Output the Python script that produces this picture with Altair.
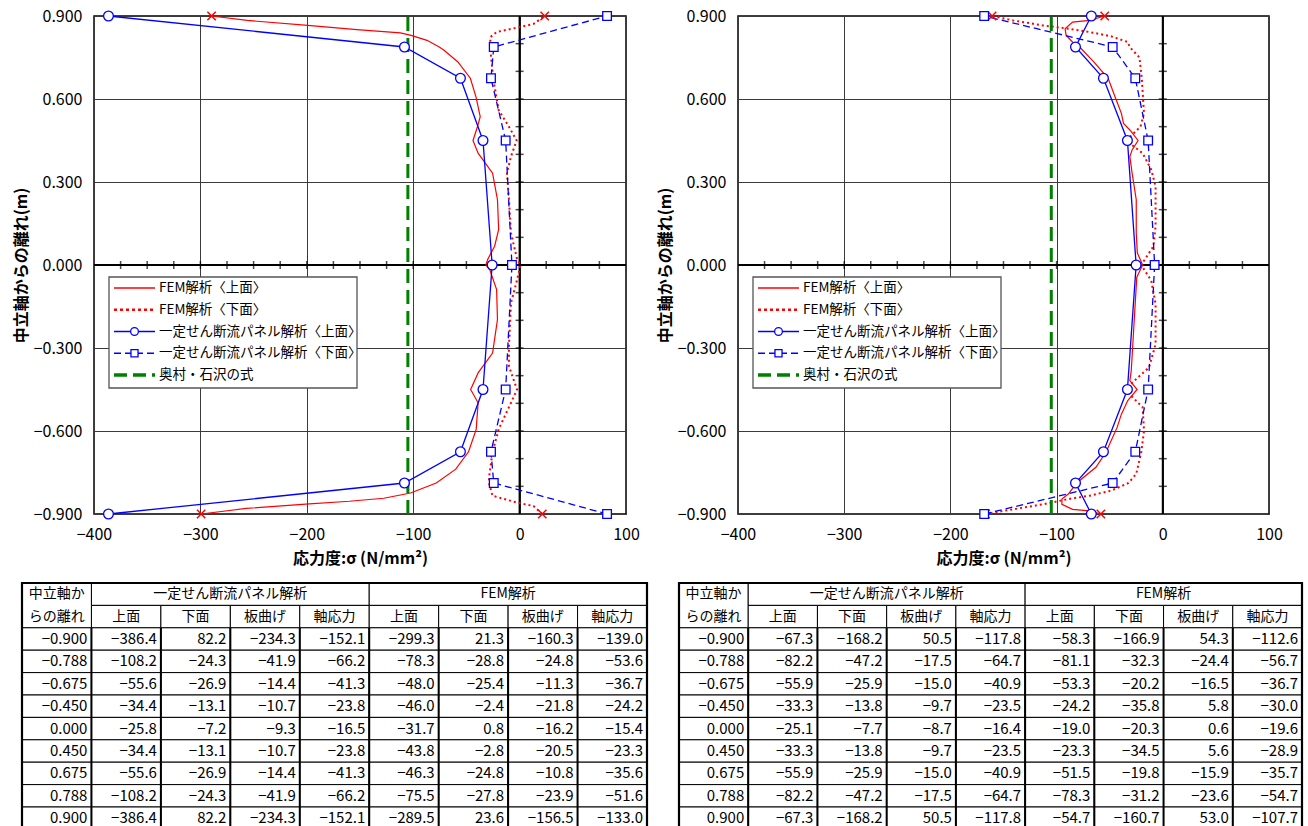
import altair as alt
import pandas as pd

FONT = "Noto Sans CJK JP"
RED = "#FF0000"
BLUE = "#0000FF"
GREEN = "#008000"

X_DOMAIN = [-400, 100]
Y_DOMAIN = [-0.9, 0.9]
x_tick_values = [-400, -300, -200, -100, 0, 100]
y_tick_values = [-0.9, -0.6, -0.3, 0.0, 0.3, 0.6, 0.9]
zero_ticks_y = [-0.8, -0.7, -0.6, -0.5, -0.4, -0.3, -0.2, -0.1, 0.1, 0.2, 0.3, 0.4, 0.5, 0.6, 0.7, 0.8]
zero_ticks_x = [-375, -350, -325, -300, -275, -250, -225, -200, -175, -150, -125, -100,
                -75, -50, -25, 25, 50, 75]

positions = [-0.900, -0.788, -0.675, -0.450, 0.000, 0.450, 0.675, 0.788, 0.900]

# ---------------- left case ----------------
A_panel_top = [-386.4, -108.2, -55.6, -34.4, -25.8, -34.4, -55.6, -108.2, -386.4]
A_panel_bot = [82.2, -24.3, -26.9, -13.1, -7.2, -13.1, -26.9, -24.3, 82.2]
A_panel_bend = [-234.3, -41.9, -14.4, -10.7, -9.3, -10.7, -14.4, -41.9, -234.3]
A_panel_axial = [-152.1, -66.2, -41.3, -23.8, -16.5, -23.8, -41.3, -66.2, -152.1]
A_fem_top = [-299.3, -78.3, -48.0, -46.0, -31.7, -43.8, -46.3, -75.5, -289.5]
A_fem_bot = [21.3, -28.8, -25.4, -2.4, 0.8, -2.8, -24.8, -27.8, 23.6]
A_fem_bend = [-160.3, -24.8, -11.3, -21.8, -16.2, -20.5, -10.8, -23.9, -156.5]
A_fem_axial = [-139.0, -53.6, -36.7, -24.2, -15.4, -23.3, -35.6, -51.6, -133.0]
A_okumura = -105.0

# FEM curves: (y, stress)
A_fem_top_curve = [
    (0.900, -289.5), (0.884, -256), (0.866, -199), (0.851, -153), (0.839, -112),
    (0.830, -102), (0.812, -87), (0.788, -75.5), (0.776, -71), (0.734, -58),
    (0.675, -46.3), (0.608, -41), (0.536, -37), (0.495, -40), (0.450, -43.8),
    (0.404, -39), (0.332, -25.4), (0.236, -20.8), (0.128, -19.7), (0.068, -23.5),
    (0.020, -30), (0.000, -31.7), (-0.017, -28), (-0.089, -21.6), (-0.197, -20.8),
    (-0.318, -25.4), (-0.390, -39), (-0.450, -46.0), (-0.498, -39), (-0.594, -40.8),
    (-0.675, -48.0), (-0.738, -60), (-0.788, -78.3), (-0.824, -102.5), (-0.843, -127.6),
    (-0.854, -160), (-0.864, -201), (-0.880, -257), (-0.900, -299.3),
]
A_fem_bot_curve = [
    (0.900, 23.6), (0.871, 13), (0.858, -2.3), (0.842, -21.6), (0.824, -27.4),
    (0.788, -27.8), (0.675, -24.8), (0.560, -19.7), (0.500, -10), (0.450, -2.8),
    (0.392, -8.1), (0.332, -11.9), (0.236, -10), (0.116, -8.1), (0.020, -2.3),
    (0.000, 0.8), (-0.053, -2.3), (-0.137, -8.1), (-0.294, -10), (-0.366, -10),
    (-0.450, -2.4), (-0.498, -8.1), (-0.594, -19.7), (-0.675, -25.4), (-0.762, -28.5),
    (-0.788, -28.8), (-0.834, -25.4), (-0.859, -2.3), (-0.871, 13), (-0.900, 21.3),
]

# ---------------- right case ----------------
B_panel_top = [-67.3, -82.2, -55.9, -33.3, -25.1, -33.3, -55.9, -82.2, -67.3]
B_panel_bot = [-168.2, -47.2, -25.9, -13.8, -7.7, -13.8, -25.9, -47.2, -168.2]
B_panel_bend = [50.5, -17.5, -15.0, -9.7, -8.7, -9.7, -15.0, -17.5, 50.5]
B_panel_axial = [-117.8, -64.7, -40.9, -23.5, -16.4, -23.5, -40.9, -64.7, -117.8]
B_fem_top = [-58.3, -81.1, -53.3, -24.2, -19.0, -23.3, -51.5, -78.3, -54.7]
B_fem_bot = [-166.9, -32.3, -20.2, -35.8, -20.3, -34.5, -19.8, -31.2, -160.7]
B_fem_bend = [54.3, -24.4, -16.5, 5.8, 0.6, 5.6, -15.9, -23.6, 53.0]
B_fem_axial = [-112.6, -56.7, -36.7, -30.0, -19.6, -28.9, -35.7, -54.7, -107.7]
B_okumura = -105.0

B_fem_top_curve = [
    (0.900, -54.7), (0.884, -69), (0.878, -85), (0.854, -92), (0.830, -91),
    (0.806, -85), (0.788, -78.3), (0.734, -65), (0.675, -51.5), (0.608, -45),
    (0.548, -39), (0.512, -37), (0.488, -31), (0.450, -23.3), (0.416, -28.9),
    (0.392, -31), (0.332, -28.9), (0.236, -25), (0.116, -25), (0.044, -24),
    (0.000, -19.0), (-0.044, -24.5), (-0.200, -26.9), (-0.382, -29.7), (-0.418, -31),
    (-0.450, -24.2), (-0.490, -33), (-0.539, -39), (-0.587, -43), (-0.675, -53.3),
    (-0.731, -63), (-0.788, -81.1), (-0.828, -89), (-0.846, -95), (-0.865, -95),
    (-0.883, -85), (-0.889, -69), (-0.900, -58.3),
]
B_fem_bot_curve = [
    (0.900, -160.7), (0.884, -141), (0.866, -113), (0.854, -89), (0.842, -69),
    (0.827, -49), (0.806, -33), (0.788, -31.2), (0.750, -22), (0.716, -21),
    (0.675, -19.8), (0.548, -17.7), (0.500, -21), (0.450, -34.5), (0.404, -19),
    (0.344, -10.8), (0.284, -6.8), (0.140, -6.8), (0.068, -8.8), (0.032, -14.9),
    (0.000, -20.3), (-0.057, -10.8), (-0.141, -6.8), (-0.286, -6.8), (-0.370, -12.9),
    (-0.450, -35.8), (-0.514, -19), (-0.599, -17.7), (-0.675, -20.2), (-0.755, -25),
    (-0.788, -32.3), (-0.816, -49), (-0.834, -69), (-0.846, -89), (-0.865, -113),
    (-0.883, -141), (-0.900, -166.9),
]

legend_labels = ["FEM解析〈上面〉", "FEM解析〈下面〉", "一定せん断流パネル解析〈上面〉",
                 "一定せん断流パネル解析〈下面〉", "奥村・石沢の式"]
table_group_headers = ["一定せん断流パネル解析", "FEM解析"]
table_sub_headers = ["上面", "下面", "板曲げ", "軸応力"]
table_corner = ["中立軸か", "らの離れ"]

X_TITLE = "応力度:σ (N/mm²)"
Y_TITLE = "中立軸からの離れ(m)"


def fmt(v, d):
    return f"{v:.{d}f}".replace("-", "\u2212")


def make_side(panel_top, panel_bot, panel_bend, panel_axial,
              fem_top, fem_bot, fem_bend, fem_axial,
              fem_top_curve, fem_bot_curve, okumura_x, table_range, width):
    xs = alt.Scale(domain=X_DOMAIN, nice=False, zero=False)
    ys = alt.Scale(domain=Y_DOMAIN, nice=False, zero=False)
    x_axis = alt.Axis(values=x_tick_values, grid=True, gridColor="#3a3a3a", gridWidth=1,
                      ticks=False, domain=False, labelFont=FONT, labelFontSize=16,
                      labelColor="black", labelPadding=12, labelFlush=False,
                      title=X_TITLE, titleFont=FONT, titleFontSize=16, titleFontWeight="bold",
                      titleColor="black", titlePadding=8, format="d")
    y_axis = alt.Axis(values=y_tick_values, grid=True, gridColor="#3a3a3a", gridWidth=1,
                      ticks=False, domain=False, labelFont=FONT, labelFontSize=16,
                      labelColor="black", labelPadding=12, labelFlush=False, format=".3f",
                      title=Y_TITLE, titleFont=FONT, titleFontSize=16, titleFontWeight="bold",
                      titleColor="black", titlePadding=4)

    def X():
        return alt.X("x:Q", scale=xs, axis=x_axis)

    def Y():
        return alt.Y("y:Q", scale=ys, axis=y_axis)

    zero_v = alt.Chart(pd.DataFrame({"x": [0], "y": [Y_DOMAIN[0]], "y2": [Y_DOMAIN[1]]})).mark_rule(
        color="black", strokeWidth=2).encode(x=X(), y=Y(), y2=alt.Y2("y2"))
    zero_h = alt.Chart(pd.DataFrame({"x": [X_DOMAIN[0]], "x2": [X_DOMAIN[1]], "y": [0.0]})).mark_rule(
        color="black", strokeWidth=2).encode(x=X(), x2=alt.X2("x2"), y=Y())
    ticks_v = alt.Chart(pd.DataFrame({"x": [0] * len(zero_ticks_y), "y": zero_ticks_y})).mark_tick(
        orient="horizontal", size=8, thickness=1.5, color="black").encode(x=X(), y=Y())
    ticks_h = alt.Chart(pd.DataFrame({"x": zero_ticks_x, "y": [0.0] * len(zero_ticks_x)})).mark_tick(
        orient="vertical", size=8, thickness=1.5, color="black").encode(x=X(), y=Y())

    ft = pd.DataFrame(fem_top_curve, columns=["y", "x"])
    fb = pd.DataFrame(fem_bot_curve, columns=["y", "x"])
    fem_top_line = alt.Chart(ft).mark_line(color=RED, strokeWidth=1.2).encode(
        x=X(), y=Y(), order=alt.Order("y:Q"))
    fem_bot_line = alt.Chart(fb).mark_line(color=RED, strokeWidth=2, strokeDash=[2, 3]).encode(
        x=X(), y=Y(), order=alt.Order("y:Q"))

    ends = pd.DataFrame({"x": [fem_top[-1], fem_bot[-1], fem_top[0], fem_bot[0]],
                         "y": [positions[-1], positions[-1], positions[0], positions[0]]})
    xmarks = alt.Chart(ends).mark_point(shape="M-1,-1L1,1M-1,1L1,-1", color=RED, filled=False,
                                        size=70, strokeWidth=1.5, opacity=1).encode(x=X(), y=Y())

    bt = pd.DataFrame({"y": positions, "x": panel_top})
    bb = pd.DataFrame({"y": positions, "x": panel_bot})
    blue_top_line = alt.Chart(bt).mark_line(color=BLUE, strokeWidth=1.3).encode(
        x=X(), y=Y(), order=alt.Order("y:Q"))
    blue_bot_line = alt.Chart(bb).mark_line(color=BLUE, strokeWidth=1.3, strokeDash=[7, 4]).encode(
        x=X(), y=Y(), order=alt.Order("y:Q"))
    circles = alt.Chart(bt).mark_point(shape="circle", filled=True, fill="white", stroke=BLUE,
                                       strokeWidth=1.3, size=95, opacity=1, fillOpacity=1).encode(x=X(), y=Y())
    squares = alt.Chart(bb).mark_point(shape="square", filled=True, fill="white", stroke=BLUE,
                                       strokeWidth=1.3, size=75, opacity=1, fillOpacity=1).encode(x=X(), y=Y())

    green = alt.Chart(pd.DataFrame({"x": [okumura_x], "y": [Y_DOMAIN[0]], "y2": [Y_DOMAIN[1]]})).mark_rule(
        color=GREEN, strokeWidth=3, strokeDash=[14, 7]).encode(x=X(), y=Y(), y2=alt.Y2("y2"))

    main = alt.layer(zero_v, zero_h, ticks_v, ticks_h, fem_top_line, fem_bot_line,
                     blue_top_line, blue_bot_line, green, xmarks, circles, squares)

    # ---------------- legend ----------------
    ly = alt.Scale(domain=[0, 4], range=[272, 359])
    leg_df = pd.DataFrame({"row": list(range(5)), "label": legend_labels})
    box = alt.Chart(pd.DataFrame({"a": [0]})).mark_rect(fill="white", stroke="#555555", strokeWidth=1.3).encode(
        x=alt.value(15), x2=alt.value(263), y=alt.value(261), y2=alt.value(372))
    styles = [
        dict(color=RED, strokeWidth=1.3),
        dict(color=RED, strokeWidth=2.5, strokeDash=[3, 3]),
        dict(color=BLUE, strokeWidth=1.3),
        dict(color=BLUE, strokeWidth=1.3, strokeDash=[7, 4]),
        dict(color=GREEN, strokeWidth=3.5, strokeDash=[13, 6]),
    ]
    leg_layers = [box]
    for i, st in enumerate(styles):
        leg_layers.append(
            alt.Chart(leg_df[leg_df.row == i]).mark_rule(**st).encode(
                x=alt.value(20), x2=alt.value(61),
                y=alt.Y("row:Q", scale=ly, axis=None)))
    leg_layers.append(
        alt.Chart(leg_df[leg_df.row == 2]).mark_point(shape="circle", filled=True, fill="white", stroke=BLUE,
                                                      strokeWidth=1.3, size=60, opacity=1).encode(
            x=alt.value(40.5), y=alt.Y("row:Q", scale=ly, axis=None)))
    leg_layers.append(
        alt.Chart(leg_df[leg_df.row == 3]).mark_point(shape="square", filled=True, fill="white", stroke=BLUE,
                                                      strokeWidth=1.3, size=50, opacity=1).encode(
            x=alt.value(40.5), y=alt.Y("row:Q", scale=ly, axis=None)))
    leg_layers.append(
        alt.Chart(leg_df).mark_text(align="left", baseline="middle", font=FONT, fontSize=13.5, color="black").encode(
            x=alt.value(65), y=alt.Y("row:Q", scale=ly, axis=None), text="label:N"))
    legend = alt.layer(*leg_layers)

    # ---------------- table ----------------
    tx = alt.Scale(domain=[0, 9], range=table_range, nice=False, zero=False)
    ty = alt.Scale(domain=[0, 11], range=[567, 813.4], nice=False, zero=False)
    cols = [panel_top, panel_bot, panel_bend, panel_axial, fem_top, fem_bot, fem_bend, fem_axial]

    cells = []
    cells.append((0, 1, 0, 2))
    cells.append((1, 5, 0, 1))
    cells.append((5, 9, 0, 1))
    for c in range(1, 9):
        cells.append((c, c + 1, 1, 2))
    for r in range(9):
        for c in range(9):
            cells.append((c, c + 1, r + 2, r + 3))
    cell_df = pd.DataFrame(cells, columns=["c0", "c1", "r0", "r1"])
    cell_rects = alt.Chart(cell_df).mark_rect(fill="white", stroke="black", strokeWidth=1).encode(
        x=alt.X("c0:Q", scale=tx, axis=None), x2=alt.X2("c1"),
        y=alt.Y("r0:Q", scale=ty, axis=None), y2=alt.Y2("r1"))

    vlines = pd.DataFrame([(c + 1, r + 2, r + 3) for r in range(9) for c in range(9)],
                          columns=["c", "r0", "r1"])
    vrules = alt.Chart(vlines).mark_rule(color="black", strokeWidth=2).encode(
        x=alt.X("c:Q", scale=tx, axis=None),
        y=alt.Y("r0:Q", scale=ty, axis=None), y2=alt.Y2("r1"))

    outer = alt.Chart(pd.DataFrame({"c0": [0], "c1": [9], "r0": [0], "r1": [11]})).mark_rect(
        fill=None, stroke="black", strokeWidth=2.2).encode(
        x=alt.X("c0:Q", scale=tx, axis=None), x2=alt.X2("c1"),
        y=alt.Y("r0:Q", scale=ty, axis=None), y2=alt.Y2("r1"))

    vals = []
    for r in range(9):
        vals.append((1, r + 2.5, fmt(positions[r], 3)))
        for c, col in enumerate(cols):
            vals.append((c + 2, r + 2.5, fmt(col[r], 1)))
    val_df = pd.DataFrame(vals, columns=["x", "y", "t"])
    val_text = alt.Chart(val_df).mark_text(align="right", baseline="middle", dx=-4, font=FONT,
                                           fontSize=15, color="black").encode(
        x=alt.X("x:Q", scale=tx, axis=None), y=alt.Y("y:Q", scale=ty, axis=None), text="t:N")

    heads = [(0.5, 0.5, table_corner[0]), (0.5, 1.5, table_corner[1]),
             (3, 0.5, table_group_headers[0]), (7, 0.5, table_group_headers[1])]
    for c in range(8):
        heads.append((c + 1.5, 1.5, table_sub_headers[c % 4]))
    head_df = pd.DataFrame(heads, columns=["x", "y", "t"])
    head_text = alt.Chart(head_df).mark_text(align="center", baseline="middle", font=FONT,
                                             fontSize=14, color="black").encode(
        x=alt.X("x:Q", scale=tx, axis=None), y=alt.Y("y:Q", scale=ty, axis=None), text="t:N")

    table = alt.layer(cell_rects, vrules, outer, val_text, head_text)

    return alt.layer(main, table, legend).resolve_scale(x="independent", y="independent").properties(
        width=width, height=498)


left = make_side(A_panel_top, A_panel_bot, A_panel_bend, A_panel_axial,
                 A_fem_top, A_fem_bot, A_fem_bend, A_fem_axial,
                 A_fem_top_curve, A_fem_bot_curve, A_okumura, [-72, 553], 532)
right = make_side(B_panel_top, B_panel_bot, B_panel_bend, B_panel_axial,
                  B_fem_top, B_fem_bot, B_fem_bend, B_fem_axial,
                  B_fem_top_curve, B_fem_bot_curve, B_okumura, [-59, 564], 531)

chart = alt.hconcat(left, right, spacing=7).properties(
    padding={"left": 12, "top": 7, "right": 0, "bottom": 0}
).configure(font=FONT).configure_view(stroke="black", strokeWidth=1.5)

chart.save("out.html", embed_options={"renderer": "svg", "actions": False})
